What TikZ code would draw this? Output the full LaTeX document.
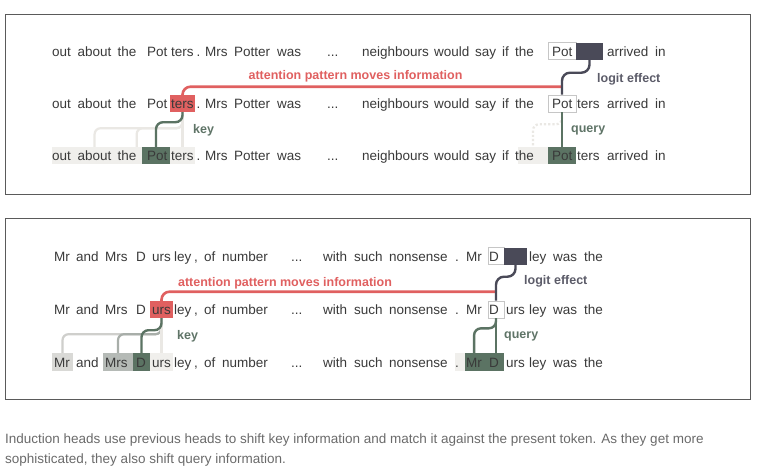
\documentclass[tikz,border=0pt]{standalone}
\usepackage{fontspec}
\setmainfont{Liberation Sans}
\usepackage{tikz}
\usetikzlibrary{positioning}
\definecolor{tokgray}{HTML}{3A3A3A}
\definecolor{attnred}{HTML}{E06060}
\definecolor{keygreen}{HTML}{5B7363}
\definecolor{labgreen}{HTML}{5F7467}
\definecolor{logitdark}{HTML}{4A4A58}
\definecolor{panelgray}{HTML}{5A5A5A}
\definecolor{litegray}{HTML}{F0EFEC}
\definecolor{fainta}{HTML}{EAE8E4}
\definecolor{faintb}{HTML}{CFCFCC}
\definecolor{faintc}{HTML}{A8AEA9}
\definecolor{capgray}{HTML}{6A6A6A}
\newcommand\tokdots{...}
\newcommand\tokstop{.}
\newcommand\tokcomma{,}

\begin{document}
\begin{tikzpicture}[x=1pt,y=-1pt,font=\fontsize{13.5}{16}\selectfont]
% ---- styles ----
\tikzstyle{panel}=[draw=panelgray,line width=0.8pt,fill=white]
\tikzstyle{tok}=[anchor=base west,inner sep=0pt,text height=9.5pt,
  text depth=2.8pt,text=tokgray]
\tikzstyle{hl}=[inner sep=0pt,minimum height=17pt]
\tikzstyle{qbox}=[hl,draw=gray!45,fill=white,line width=0.6pt]
\tikzstyle{dstbox}=[hl,fill=logitdark]
\tikzstyle{keybox}=[hl,fill=attnred]
\tikzstyle{srcbox}=[hl,fill=keygreen]
\tikzstyle{lite}=[hl,fill=litegray]
\tikzstyle{attn}=[draw=attnred,line width=2.6pt,rounded corners=8pt]
\tikzstyle{keyline}=[draw=keygreen,line width=2.4pt,rounded corners=7pt]
\tikzstyle{logit}=[draw=logitdark,line width=2.4pt,rounded corners=8pt]
\tikzstyle{faint}=[draw=fainta,line width=2.2pt,rounded corners=6pt]
\tikzstyle{lbl}=[anchor=west,inner sep=0pt,font=\fontsize{12.5}{15}\selectfont\bfseries]
\tikzstyle{caption}=[anchor=base west,inner sep=0pt,text=capgray,
  font=\fontsize{13.5}{16}\selectfont]

\useasboundingbox (0,0) rectangle (760,475);

% ---- panels ----
\draw[panel] (5,14) rectangle (750,194);
\draw[panel] (5,218) rectangle (750,399);

% ---- panel 1: highlight boxes ----
\node[lite,minimum width=143pt] (p1lite) at (123.5,155.5) {};
\node[lite,minimum width=30pt] (p1the) at (533,155.5) {};
\node[qbox,minimum width=28pt] (p1qa) at (562,51) {};
\node[dstbox,minimum width=27pt] (p1dst) at (589.5,51) {};
\node[qbox,minimum width=28pt] (p1qb) at (562,103.5) {};
\node[keybox,minimum width=25pt] (p1key) at (182.5,103.5) {};
\node[srcbox,minimum width=28pt] (p1src) at (156,155.5) {};
\node[srcbox,minimum width=28pt] (p1qsrc) at (562,155.5) {};

% ---- panel 1: tokens ----
\foreach \r/\yy in {a/56,b/108.5,c/160.5}{
  \foreach \w/\x [count=\i] in {out/52,about/77.5,the/117.5,Pot/147,ters/171,
      \tokstop/196.5,Mrs/205,Potter/234,was/277,\tokdots/327,neighbours/362,
      would/434,say/475,if/502,the/515,Pot/552,arrived/607,in/655}
    \node[tok] (p1\r\i) at (\x,\yy) {\w};
}
\node[tok] (p1bx) at (577,108.5) {ters};
\node[tok] (p1cx) at (577,160.5) {ters};

% ---- panel 1: connectors ----
\coordinate (p1hub) at ([yshift=8pt]p1qb.north);
\draw[faint] (p1key.south) -- ++(0,16) -| (p1c2.north |- p1lite.north);
\draw[faint] (p1key.south) -- ++(0,16) -| (p1c3.north east |- p1lite.north);
\draw[faint] (p1key.south) -- (p1key.south |- p1lite.north);
\draw[faint,dotted] (p1qb.south) -- ++(0,12) -| (p1the.north);
\draw[keyline] (p1key.south) -- ++(0,10) -| (p1src.north);
\draw[keyline] (p1qb.south) -- (p1qsrc.north);
\draw[attn] (p1key.north) |- (p1hub);
\draw[logit] (p1dst.south) -- ++(0,13) -| (p1qb.north);

% ---- panel 1: labels ----
\node[lbl,anchor=center,text=attnred] (p1attn) at (355.5,76) {attention pattern moves information};
\node[lbl,text=logitdark!90] (p1logit) at (597,79) {logit effect};
\node[lbl,text=labgreen] (p1keylab) at (193,130) {key};
\node[lbl,text=labgreen] (p1qlab) at (571,130) {query};

% ---- panel 2: highlight boxes ----
\node[qbox,minimum width=16pt] (p2qa) at (496,256) {};
\node[dstbox,minimum width=23pt] (p2dst) at (515.5,256) {};
\node[qbox,minimum width=16pt] (p2qb) at (496,309.5) {};
\node[keybox,minimum width=23pt] (p2key) at (161.5,309.5) {};
\node[hl,fill=faintb!80,minimum width=21pt,minimum height=18pt] (p2mr) at (62.5,362) {};
\node[hl,fill=faintc!85,minimum width=30pt,minimum height=18pt] (p2mrs) at (118,362) {};
\node[srcbox,minimum width=17pt,minimum height=18pt] (p2src) at (141.5,362) {};
\node[hl,fill=litegray,minimum width=23pt,minimum height=18pt] (p2urs) at (161.5,362) {};
\node[lite,minimum width=10pt,minimum height=18pt] (p2stop) at (460,362) {};
\node[srcbox,minimum width=39pt,minimum height=18pt] (p2qsrc) at (484.5,362) {};

% ---- panel 2: tokens ----
\foreach \r/\yy in {a/261,b/314.5,c/367}{
  \foreach \w/\x [count=\i] in {Mr/54,and/76,Mrs/105,D/136,urs/152,ley/174,
      \tokcomma/194,of/204,number/222,\tokdots/291,with/323,such/354,
      nonsense/389,\tokstop/455,Mr/466,D/489,ley/529,was/553,the/584}
    \node[tok] (p2\r\i) at (\x,\yy) {\w};
}
\node[tok] (p2bx) at (506,314.5) {urs};
\node[tok] (p2cx) at (506,367) {urs};

% ---- panel 2: connectors ----
\coordinate (p2hub) at ([yshift=9pt]p2qb.north);
\draw[faint,draw=faintb] (p2key.south) -- ++(0,16) -| (p2mr.north);
\draw[faint,draw=faintc] (p2key.south) -- ++(0,16) -| (p2mrs.north);
\draw[faint] (p2key.south) -- (p2urs.north);
\draw[keyline] (p2key.south) -- ++(0,12) -| (p2src.north);
\draw[keyline] (p2qb.south) -- (p2qb.south |- p2qsrc.north);
\draw[keyline] (p2qb.south) -- ++(0,10) -| (p2c15.north |- p2qsrc.north);
\draw[attn] (p2key.north) |- (p2hub);
\draw[logit] (p2dst.south) -- ++(0,12) -| (p2qb.north);

% ---- panel 2: labels ----
\node[lbl,anchor=center,text=attnred] (p2attn) at (285,283) {attention pattern moves information};
\node[lbl,text=logitdark!90] (p2logit) at (524,281) {logit effect};
\node[lbl,text=labgreen] (p2keylab) at (177,336) {key};
\node[lbl,text=labgreen] (p2qlab) at (504,336) {query};

% ---- caption ----
\node[caption] (cap1) at (5,443) {Induction heads use previous heads to shift key information and match it against the present token. As they get more};
\node[caption] (cap2) at (5,463.5) {sophisticated, they also shift query information.};
\end{tikzpicture}
\end{document}
